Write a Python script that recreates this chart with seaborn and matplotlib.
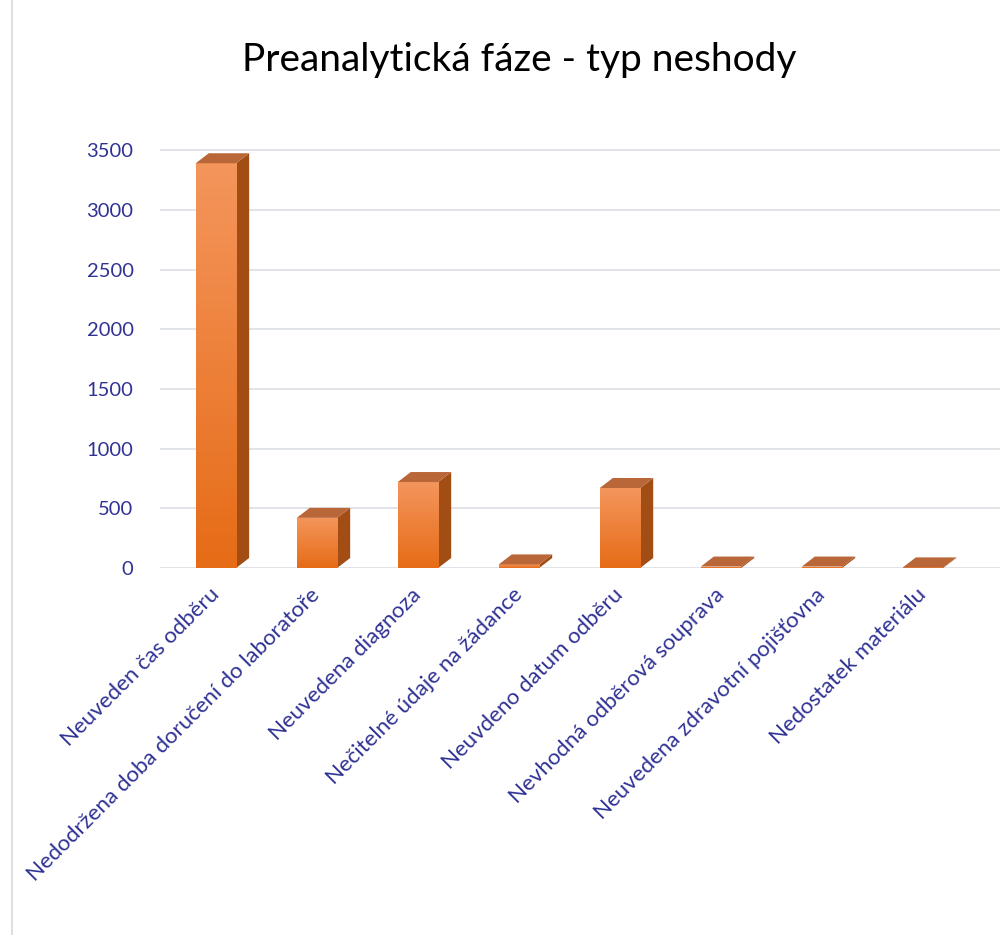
import numpy as np
import pandas as pd
import matplotlib
matplotlib.use('Agg')
import matplotlib.pyplot as plt
import seaborn as sns
from matplotlib.patches import Polygon, Rectangle
from matplotlib.colors import LinearSegmentedColormap

# data
kategorie = [
    'Neuveden čas odběru',
    'Nedodržena doba doručení do laboratoře',
    'Neuvedena diagnoza',
    'Nečitelné údaje na žádance',
    'Neuvdeno datum odběru',
    'Nevhodná odběrová souprava',
    'Neuvedena zdravotní pojišťovna',
    'Nedostatek materiálu',
]
pocet = [3390, 420, 720, 30, 670, 12, 12, 5]
y_ticks = [0, 500, 1000, 1500, 2000, 2500, 3000, 3500]

df = pd.DataFrame({'typ': kategorie, 'pocet': pocet})

sns.set_style('white')
plt.rcParams['font.family'] = ['Lato', 'DejaVu Sans']

modra = '#2f3293'
W, H = 1005, 935
fig = plt.figure(figsize=(W / 100, H / 100), dpi=100)
ax = fig.add_axes([160 / W, 1 - 568 / H, 840 / W, 437 / H])

sns.barplot(data=df, x='typ', y='pocet', color='#f07f2a', width=0.4,
            saturation=1, ax=ax, zorder=3)

ax.set_xlim(-0.554, 7.762)
ax.set_ylim(0, 3660)
ax.set_yticks(y_ticks)
ax.set_yticklabels([str(v) for v in y_ticks], color=modra, fontsize=14.5)
ax.tick_params(axis='y', length=0, pad=19)
ax.tick_params(axis='x', length=0, pad=6)
ax.set_xticks(range(len(kategorie)))
ax.set_xticklabels(kategorie, rotation=45, ha='right', va='center',
                   rotation_mode='anchor', color=modra, fontsize=16)
for lab in ax.get_xticklabels():
    lab.set_y(-0.035)
ax.set_xlabel('')
ax.set_ylabel('')
ax.grid(axis='y', color='#dde0e6', linewidth=1.3, zorder=0)
for s in ax.spines.values():
    s.set_visible(False)

# fake 3D faces, gradient on front
grad = LinearSegmentedColormap.from_list('g', ['#e66c17', '#f4955c'])
dx, dy = 13, 10
fwd = ax.transData
inv = ax.transData.inverted()
for p in list(ax.patches):
    x0, y0 = p.get_x(), p.get_y()
    x1, y1 = x0 + p.get_width(), y0 + p.get_height()
    (px0, py0), (px1, py1) = fwd.transform([(x0, y0), (x1, y1)])
    side = inv.transform([(px1, py0), (px1 + dx, py0 + dy),
                          (px1 + dx, py1 + dy), (px1, py1)])
    top = inv.transform([(px0, py1), (px0 + dx, py1 + dy),
                         (px1 + dx, py1 + dy), (px1, py1)])
    ax.add_patch(Polygon(side, closed=True, facecolor='#a14d14',
                         edgecolor='none', zorder=3))
    ax.add_patch(Polygon(top, closed=True, facecolor='#b96638',
                         edgecolor='none', zorder=4))
    im = ax.imshow(np.linspace(0, 1, 100).reshape(-1, 1), cmap=grad,
                   extent=(x0, x1, y0, y1), aspect='auto', zorder=3.5,
                   origin='lower')
    im.set_clip_path(p)

ax.set_xlim(-0.554, 7.762)
ax.set_ylim(0, 3660)

fig.text(0.517, 1 - 60 / H, 'Preanalytická fáze - typ neshody',
         ha='center', va='center', fontsize=28, color='black')

fig.patches.append(Rectangle((12 / W, -0.01), 1.1, 1.02, transform=fig.transFigure,
                             fill=False, edgecolor='#d9d9d9', linewidth=1.2))

fig.savefig('out.png', dpi=100)
